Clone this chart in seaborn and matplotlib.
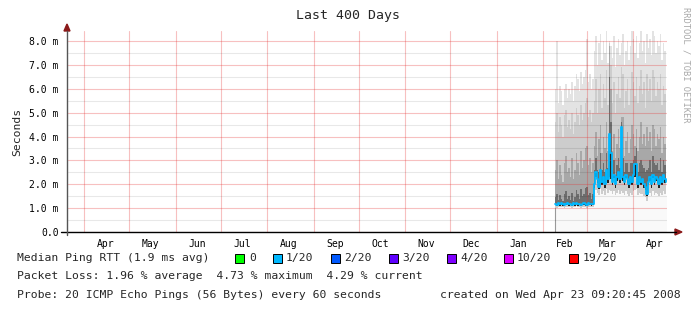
import numpy as np
import pandas as pd
import matplotlib
matplotlib.use("Agg")
import matplotlib.pyplot as plt
import matplotlib.dates as mdates
import matplotlib.ticker as mticker
from matplotlib.patches import Rectangle, Polygon
from matplotlib.lines import Line2D
import seaborn as sns

# ---------------- data (milliseconds) ----------------
start_day = "2008-02-09"
median_feb = [1.18, 1.15, 1.20, 1.16, 1.22, 1.17, 1.14, 1.19, 1.21, 1.16, 1.18, 1.15, 1.20,
              1.17, 1.23, 1.16, 1.19, 1.14, 1.18, 1.21, 1.17, 1.15, 1.20, 1.18, 1.16, 1.19]
median_post = [2.0, 2.5, 2.2, 1.9, 2.6, 2.1, 2.3, 2.0, 2.6, 2.2, 4.1, 3.3, 2.1, 2.4, 2.0, 2.3,
               2.5, 2.2, 4.4, 2.3, 2.1, 2.4, 2.2, 2.0, 2.3, 2.1, 2.4, 2.85, 2.85, 2.0, 2.3, 2.1,
               2.2, 2.0, 1.9, 1.6, 2.1, 2.3, 2.0, 2.4, 2.1, 2.3, 2.2, 2.0, 2.3, 2.1, 2.4, 2.2, 2.1]

lo_feb = [1.04, 1.02, 1.05, 1.03, 1.06, 1.04, 1.01, 1.05, 1.06, 1.03, 1.04, 1.02, 1.05,
          1.03, 1.07, 1.03, 1.05, 1.01, 1.04, 1.06, 1.03, 1.02, 1.05, 1.04, 1.03, 1.05]
lo_post = [1.6, 1.75, 1.65, 1.55, 1.8, 1.6, 1.7, 1.55, 1.8, 1.65, 1.75, 1.7, 1.6, 1.7, 1.55, 1.65,
           1.75, 1.6, 1.7, 1.65, 1.55, 1.7, 1.6, 1.5, 1.65, 1.55, 1.7, 1.75, 1.8, 1.55, 1.65, 1.6,
           1.6, 1.5, 1.45, 1.3, 1.55, 1.65, 1.5, 1.7, 1.55, 1.65, 1.6, 1.5, 1.65, 1.55, 1.7, 1.6, 1.55]

q25_feb = [1.12, 1.09, 1.14, 1.10, 1.16, 1.11, 1.08, 1.13, 1.15, 1.10, 1.12, 1.09, 1.14,
           1.11, 1.17, 1.10, 1.13, 1.08, 1.12, 1.15, 1.11, 1.09, 1.14, 1.12, 1.10, 1.13]
q25_post = [1.85, 2.3, 2.05, 1.8, 2.4, 1.95, 2.15, 1.85, 2.4, 2.05, 2.3, 2.2, 1.95, 2.25, 1.85, 2.15,
            2.3, 2.05, 2.3, 2.15, 1.95, 2.25, 2.05, 1.85, 2.15, 1.95, 2.25, 2.3, 2.4, 1.85, 2.15, 1.95,
            2.05, 1.85, 1.75, 1.5, 1.95, 2.15, 1.85, 2.25, 1.95, 2.15, 2.05, 1.85, 2.15, 1.95, 2.25, 2.05, 1.95]

q60_feb = [1.45, 1.6, 1.35, 1.55, 1.4, 1.3, 1.6, 1.7, 1.4, 1.5, 1.35, 1.65, 1.3,
           1.45, 1.75, 1.6, 1.4, 1.8, 1.5, 1.6, 1.85, 1.9, 1.55, 1.65, 1.4, 1.6]
q60_post = [2.6, 3.1, 2.6, 2.5, 3.3, 2.6, 2.9, 2.5, 3.3, 2.7, 6.5, 4.6, 2.6, 3.0, 2.4, 2.8,
            3.1, 2.7, 4.6, 3.1, 2.5, 2.9, 2.9, 2.5, 2.9, 2.9, 3.0, 3.2, 3.5, 2.5, 2.9, 3.0,
            2.8, 2.7, 2.5, 2.6, 2.7, 3.0, 2.5, 3.2, 2.9, 2.8, 2.9, 2.6, 3.1, 2.5, 3.0, 2.8, 2.6]

q75_feb = [2.6, 3.0, 2.2, 2.8, 2.4, 2.1, 2.9, 3.2, 2.5, 2.7, 2.3, 3.1, 2.2,
           2.6, 3.3, 2.9, 2.4, 3.4, 2.7, 3.0, 3.5, 3.6, 2.8, 3.1, 2.5, 2.9]
q75_post = [3.6, 4.2, 3.2, 3.9, 4.5, 3.3, 4.0, 3.5, 4.6, 3.4, 7.8, 6.0, 3.4, 4.1, 3.1, 3.7,
            4.3, 3.5, 4.8, 4.8, 3.2, 3.8, 4.2, 3.3, 3.9, 4.5, 4.1, 3.6, 4.3, 3.4, 4.0, 4.6,
            3.7, 4.1, 3.6, 4.4, 3.8, 4.2, 3.4, 4.5, 4.3, 3.6, 4.1, 3.9, 4.4, 3.3, 4.0, 3.7, 3.5]

q90_feb = [4.6, 5.0, 4.2, 4.8, 4.5, 4.0, 4.9, 5.1, 4.4, 4.7, 4.3, 5.0, 4.1,
           4.6, 5.2, 4.9, 4.5, 5.3, 4.7, 5.0, 5.4, 5.6, 4.8, 5.1, 4.6, 5.0]
q90_post = [5.5, 6.4, 5.0, 6.0, 6.6, 5.2, 6.2, 5.6, 6.8, 5.3, 7.9, 7.0, 5.4, 6.3, 5.0, 5.8,
            6.5, 5.6, 6.9, 6.6, 5.2, 5.9, 6.4, 5.3, 6.0, 6.7, 6.3, 5.7, 6.5, 5.4, 6.1, 6.8,
            5.8, 6.3, 5.2, 6.6, 5.9, 6.4, 5.5, 6.8, 6.5, 5.7, 6.3, 6.0, 6.6, 5.3, 6.1, 5.8, 5.5]

hi_feb = [6.0, 8.0, 5.4, 6.1, 5.9, 5.3, 6.0, 6.2, 5.6, 6.0, 5.8, 6.3, 5.5,
          6.1, 6.6, 6.4, 5.9, 6.7, 6.2, 6.5, 6.8, 8.1, 6.3, 6.6, 6.0, 6.4]
hi_post = [7.6, 8.2, 7.0, 7.9, 8.3, 7.2, 8.0, 7.5, 8.4, 7.1, 8.0, 7.8, 7.3, 8.2, 6.9, 7.7,
           8.1, 7.4, 7.9, 8.3, 7.0, 7.6, 8.0, 7.2, 7.8, 8.4, 8.1, 7.5, 8.2, 7.3, 7.9, 8.4,
           7.6, 8.0, 7.1, 8.3, 7.7, 8.1, 7.4, 8.4, 8.2, 7.5, 8.0, 7.8, 8.3, 7.2, 7.9, 7.6, 7.3]

y_ticks = [0, 1, 2, 3, 4, 5, 6, 7, 8]
y_tick_labels = ["0.0", "1.0 m", "2.0 m", "3.0 m", "4.0 m", "5.0 m", "6.0 m", "7.0 m", "8.0 m"]
loss_labels = ["0", "1/20", "2/20", "3/20", "4/20", "10/20", "19/20"]
loss_colors = ["#00ff00", "#00b8ff", "#0059ff", "#5e00ff", "#7e00ff", "#dd00ff", "#ff0000"]
t_start = pd.Timestamp("2007-03-20 09:20:45")
t_end = pd.Timestamp("2008-04-23 09:20:45")

median = median_feb + median_post
lo = lo_feb + lo_post
q25 = q25_feb + q25_post
q60 = q60_feb + q60_post
q75 = q75_feb + q75_post
q90 = q90_feb + q90_post
hi = hi_feb + hi_post
dates = pd.date_range(start_day, periods=len(median), freq="D")
df = pd.DataFrame({"date": dates, "median": median})

# ---------------- figure ----------------
sns.set_theme(style="white")
plt.rcParams["font.family"] = ["DejaVu Sans Mono", "DejaVu Sans"]

W, H = 697, 313
fig = plt.figure(figsize=(W / 100, H / 100), dpi=100, facecolor="white")


def fx(x):
    return x / W


def fy(y):
    return 1 - y / H


ax = fig.add_axes([fx(67), fy(232), (667 - 67) / W, (232 - 31) / H])
ax.set_facecolor("white")

# smoke
ax.fill_between(dates, 0, lo, step="mid", color="#f9f9f9", lw=0, zorder=1)
ax.fill_between(dates, lo, hi, step="mid", color="#e3e3e3", lw=0, zorder=1)
ax.fill_between(dates, lo, q90, step="mid", color="#cdcdcd", lw=0, zorder=1)
ax.fill_between(dates, q25, q75, step="mid", color="#a8a8a8", lw=0, zorder=1)
ax.fill_between(dates, q25, q60, step="mid", color="#6e6e6e", lw=0, zorder=1)
ax.fill_between(dates, q25, median, step="mid", color="#262626", lw=0, zorder=1)
ax.vlines([dates[0] - pd.Timedelta(hours=12), dates[-1] + pd.Timedelta(hours=10)],
          0, [lo[0], lo[-1]], color="#9a9a9a", lw=0.8, zorder=1)

sns.lineplot(data=df, x="date", y="median", drawstyle="steps-mid", color="#00b8ff",
             lw=1.3, ax=ax, zorder=4)

ax.set_xlim(t_start, t_end)
ax.set_ylim(0, 8.42)
ax.set_xlabel("")
ax.set_ylabel("")

ax.set_yticks(y_ticks)
ax.set_yticklabels(y_tick_labels)
ax.yaxis.set_minor_locator(mticker.MultipleLocator(0.5))
ax.xaxis.set_major_locator(mdates.MonthLocator())
ax.xaxis.set_major_formatter(mticker.NullFormatter())
ax.xaxis.set_minor_locator(mdates.MonthLocator(bymonthday=15))
ax.xaxis.set_minor_formatter(mdates.DateFormatter("%b"))

ax.set_axisbelow(False)
ax.grid(False)
ax.grid(which="major", axis="both", color="#e53030", alpha=0.30, lw=0.8)
ax.grid(which="minor", axis="y", color="#000000", alpha=0.09, lw=0.8)

ax.tick_params(axis="x", which="major", length=4, width=0.8, color="#f0a0a0", direction="out")
ax.tick_params(axis="x", which="minor", length=0, labelsize=7, pad=5, colors="black")
ax.tick_params(axis="y", which="major", length=0, labelsize=7, pad=6, colors="black")
ax.tick_params(axis="y", which="minor", length=0)

for s in ax.spines.values():
    s.set_visible(False)

# axes lines with arrows
fig.add_artist(Line2D([fx(61), fx(676)], [fy(232), fy(232)], color="black", lw=1.0,
                      transform=fig.transFigure))
fig.add_artist(Line2D([fx(67), fx(67)], [fy(235), fy(31)], color="#555555", lw=1.0,
                      transform=fig.transFigure))
fig.add_artist(Polygon([[fx(675), fy(229)], [fx(675), fy(235)], [fx(682), fy(232)]],
                       closed=True, color="#8b1a1a", transform=fig.transFigure))
fig.add_artist(Polygon([[fx(64), fy(31)], [fx(70), fy(31)], [fx(67), fy(24)]],
                       closed=True, color="#8b1a1a", transform=fig.transFigure))

# texts
fig.text(fx(348), fy(16), "Last 400 Days", ha="center", va="center", fontsize=9.5)
fig.text(fx(17), fy(132), "Seconds", rotation=90, ha="center", va="center", fontsize=8.2)
fig.text(fx(686), fy(7), "RRDTOOL / TOBI OETIKER", rotation=270, ha="center", va="top",
         fontsize=6.3, color="#a8a8a8")

row1, row2, row3 = 258, 276, 295
fig.text(fx(17), fy(row1), "Median Ping RTT (1.9 ms avg)", ha="left", va="center", fontsize=8.2)
box_x = [235, 273, 331, 389, 447, 504, 569]
txt_x = [249, 286, 344, 402, 460, 517, 583]
for bx, tx, lab, col in zip(box_x, txt_x, loss_labels, loss_colors):
    fig.add_artist(Rectangle((fx(bx), fy(row1 + 4.5)), 9 / W, 9 / H, facecolor=col,
                             edgecolor="black", lw=0.7, transform=fig.transFigure))
    fig.text(fx(tx), fy(row1), lab, ha="left", va="center", fontsize=8.2)

fig.text(fx(17), fy(row2), "Packet Loss: 1.96 % average  4.73 % maximum  4.29 % current",
         ha="left", va="center", fontsize=8.2)
fig.text(fx(17), fy(row3), "Probe: 20 ICMP Echo Pings (56 Bytes) every 60 seconds",
         ha="left", va="center", fontsize=8.2)
fig.text(fx(681), fy(row3), "created on Wed Apr 23 09:20:45 2008", ha="right", va="center",
         fontsize=8.2)

fig.savefig("out.png", dpi=100, facecolor="white")
